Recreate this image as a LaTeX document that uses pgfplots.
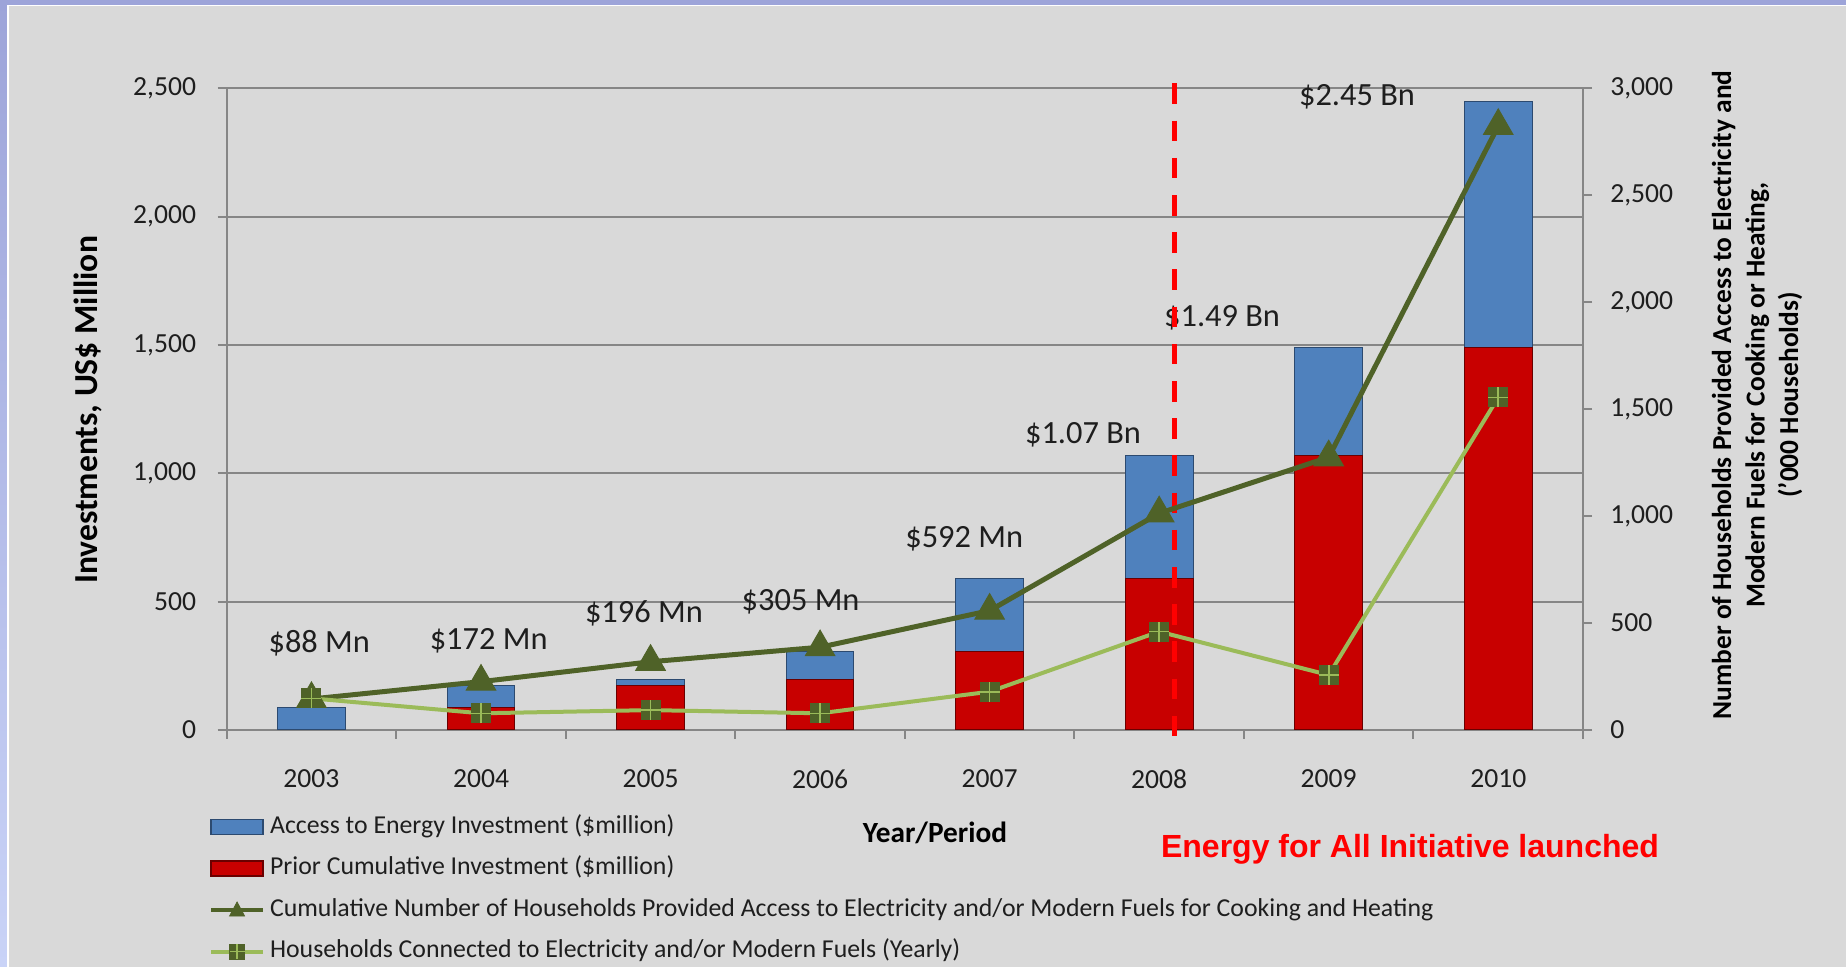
\documentclass[border=0pt]{standalone}
\usepackage{pgfplots}
\pgfplotsset{compat=1.18}
\usepackage{fontspec}
\setmainfont{Carlito}
\newfontfamily\arialfont{Liberation Sans}
\definecolor{bgray}{HTML}{D9D9D9}
\definecolor{lav}{HTML}{9DA4D9}
\definecolor{lavlight}{HTML}{C9D3F7}
\definecolor{gridgray}{HTML}{868686}
\definecolor{barblue}{HTML}{4F81BD}
\definecolor{barblueedge}{HTML}{2C4A70}
\definecolor{barred}{HTML}{C80000}
\definecolor{barrededge}{HTML}{6A0000}
\definecolor{dkgreen}{HTML}{4F6228}
\definecolor{ltgreen}{HTML}{9BBB59}
\definecolor{txt}{HTML}{1E1E1E}
\pgfdeclareplotmark{sqplus}{%
  \pgfsetfillcolor{dkgreen}%
  \pgfpathrectangle{\pgfpoint{-\pgfplotmarksize}{-\pgfplotmarksize}}{\pgfpoint{2\pgfplotmarksize}{2\pgfplotmarksize}}%
  \pgfusepath{fill}%
  \pgfsetstrokecolor{ltgreen}\pgfsetlinewidth{0.8pt}%
  \pgfpathmoveto{\pgfpoint{-\pgfplotmarksize}{0pt}}\pgfpathlineto{\pgfpoint{\pgfplotmarksize}{0pt}}%
  \pgfpathmoveto{\pgfpoint{0pt}{-\pgfplotmarksize}}\pgfpathlineto{\pgfpoint{0pt}{\pgfplotmarksize}}%
  \pgfusepath{stroke}}
\begin{document}
\begin{tikzpicture}
\fill[lav] (0,0) rectangle (923pt,483.5pt);
\shade[top color=lav, bottom color=lavlight] (0,0) rectangle (3.5pt,483.5pt);
\fill[white] (3.5pt,0) rectangle (923pt,481pt);
\fill[bgray] (4.25pt,0) rectangle (923pt,480.25pt);

\begin{axis}[
  at={(113.35pt,118.5pt)}, anchor=south west,
  scale only axis, width=678.15pt, height=320.85pt,
  xmin=-0.5, xmax=7.5, ymin=0, ymax=2500,
  axis lines*=left,
  axis line style={gridgray, line width=1pt},
  ybar stacked, bar width=0.40,
  xtick={-0.5,0.5,...,7.5}, xticklabels={},
  extra x ticks={0,1,...,7},
  extra x tick labels={2003,2004,2005,2006,2007,2008,2009,2010},
  extra x tick style={major tick length=0pt, grid=none, xticklabel style={yshift=-16.5pt}},
  ytick={0,500,...,2500},
  ymajorgrids, grid style={gridgray, line width=1pt},
  tick align=outside, major tick length=4.5pt,
  tick style={gridgray, line width=1pt},
  ticklabel style={font=\fontsize{13.8}{16}\selectfont, text=txt},
  yticklabel style={xshift=-7.3pt},
  /pgf/number format/1000 sep={,},
  /pgf/number format/assume math mode=true,
  clip=false,
]
\addplot[fill=barred, draw=barrededge, line width=0.5pt] coordinates {(0,0) (1,88) (2,172) (3,196) (4,305) (5,592) (6,1070) (7,1490)};
\addplot[fill=barblue, draw=barblueedge, line width=0.5pt] coordinates {(0,88) (1,84) (2,24) (3,109) (4,287) (5,478) (6,420) (7,960)};
\node[font=\fontsize{16.2}{18}\selectfont, text=txt] at (axis cs:0.046,339) {\$88 Mn};
\node[font=\fontsize{16.2}{18}\selectfont, text=txt] at (axis cs:1.045,349) {\$172 Mn};
\node[font=\fontsize{16.2}{18}\selectfont, text=txt] at (axis cs:1.961,454) {\$196 Mn};
\node[font=\fontsize{16.2}{18}\selectfont, text=txt] at (axis cs:2.885,500) {\$305 Mn};
\node[font=\fontsize{16.2}{18}\selectfont, text=txt] at (axis cs:3.85,743) {\$592 Mn};
\node[font=\fontsize{16.2}{18}\selectfont, text=txt] at (axis cs:4.551,1152) {\$1.07 Bn};
\node[font=\fontsize{16.2}{18}\selectfont, text=txt] at (axis cs:5.371,1605) {\$1.49 Bn};
\node[font=\fontsize{16.2}{18}\selectfont, text=txt] at (axis cs:6.167,2467) {\$2.45 Bn};
\end{axis}

\begin{axis}[
  at={(113.35pt,118.5pt)}, anchor=south west,
  scale only axis, width=678.15pt, height=320.85pt,
  xmin=-0.5, xmax=7.5, ymin=0, ymax=3000,
  axis y line*=right, axis x line=none,
  y axis line style={gridgray, line width=1.4pt},
  ytick={0,500,...,3000},
  tick align=outside, major tick length=4.5pt,
  tick style={gridgray, line width=1pt},
  yticklabel style={font=\fontsize{13.8}{16}\selectfont, text=txt, anchor=west, xshift=5.6pt},
  /pgf/number format/1000 sep={,},
  /pgf/number format/assume math mode=true,
  clip=false,
  legend cell align=left,
  legend style={at={(-0.013,-0.1325)}, anchor=north west, draw=none, fill=none,
    inner sep=0pt, outer sep=0pt, row sep=8.75pt,
    font=\fontsize{12.9}{15}\selectfont, text=txt,
    nodes={inner sep=0pt, text height=9pt, text depth=3pt},
    /tikz/every odd column/.append style={column sep=2.5pt}},
]
\addlegendimage{legend image code/.code={\fill[barblue] (0pt,-3.75pt) rectangle (26pt,3.75pt); \draw[barblueedge, line width=0.6pt] (0pt,-3.75pt) rectangle (26pt,3.75pt);}}
\addlegendentry{Access to Energy Investment (\$million)}
\addlegendimage{legend image code/.code={\fill[barred] (0pt,-3.75pt) rectangle (26pt,3.75pt); \draw[barrededge, line width=0.6pt] (0pt,-3.75pt) rectangle (26pt,3.75pt);}}
\addlegendentry{Prior Cumulative Investment (\$million)}
\addlegendimage{legend image code/.code={\draw[dkgreen, line width=2pt] (0pt,0pt) -- (26pt,0pt); \fill[dkgreen] (9.25pt,-3pt) -- (16.75pt,-3pt) -- (13pt,4pt) -- cycle;}}
\addlegendentry{Cumulative Number of Households Provided Access to Electricity and/or Modern Fuels for Cooking and Heating}
\addlegendimage{legend image code/.code={\draw[ltgreen, line width=2pt] (0pt,0pt) -- (26pt,0pt); \fill[dkgreen] (9.25pt,-3.75pt) rectangle (16.75pt,3.75pt); \draw[ltgreen, line width=0.6pt] (13pt,-3.75pt) -- (13pt,3.75pt) (9.25pt,0pt) -- (16.75pt,0pt);}}
\addlegendentry{Households Connected to Electricity and/or Modern Fuels (Yearly)}
\addplot[red, line width=2.3pt, dash pattern=on 10.3pt off 8.3pt, mark=none, forget plot] coordinates {(5.089,3022.8) (5.089,-37.2)};
\addplot[dkgreen, line width=2.5pt, mark=triangle*, mark size=8.5pt, mark options={solid, fill=dkgreen, draw=dkgreen, line width=0.5pt}, forget plot] coordinates {(0,145) (1,226) (2,319) (3,387) (4,558) (5,1013) (6,1275) (7,2824)};
\addplot[ltgreen, line width=2pt, mark=sqplus, mark size=5pt, forget plot] coordinates {(0,148) (1,78) (2,93) (3,78) (4,179) (5,460) (6,257) (7,1555)};
\end{axis}

\node[rotate=90, font=\bfseries\fontsize{16.8}{20}\selectfont, text=black] at (44pt,278.5pt) {Investments, US\$ Million};
\node[rotate=90, align=center, font=\bfseries\fontsize{13.7}{16.75}\selectfont, text=black] at (878.5pt,286pt) {Number of Households Provided Access to Electricity and\\Modern Fuels for Cooking or Heating,\\('000 Households)};
\node[font=\bfseries\fontsize{14.65}{17}\selectfont, text=black] at (467.5pt,67pt) {Year/Period};
\node[font=\arialfont\bfseries\fontsize{16}{19}\selectfont, text=red] at (705pt,59pt) {Energy for All Initiative launched};
\pgfresetboundingbox
\useasboundingbox (0,0) rectangle (923pt,483.5pt);
\end{tikzpicture}
\end{document}
